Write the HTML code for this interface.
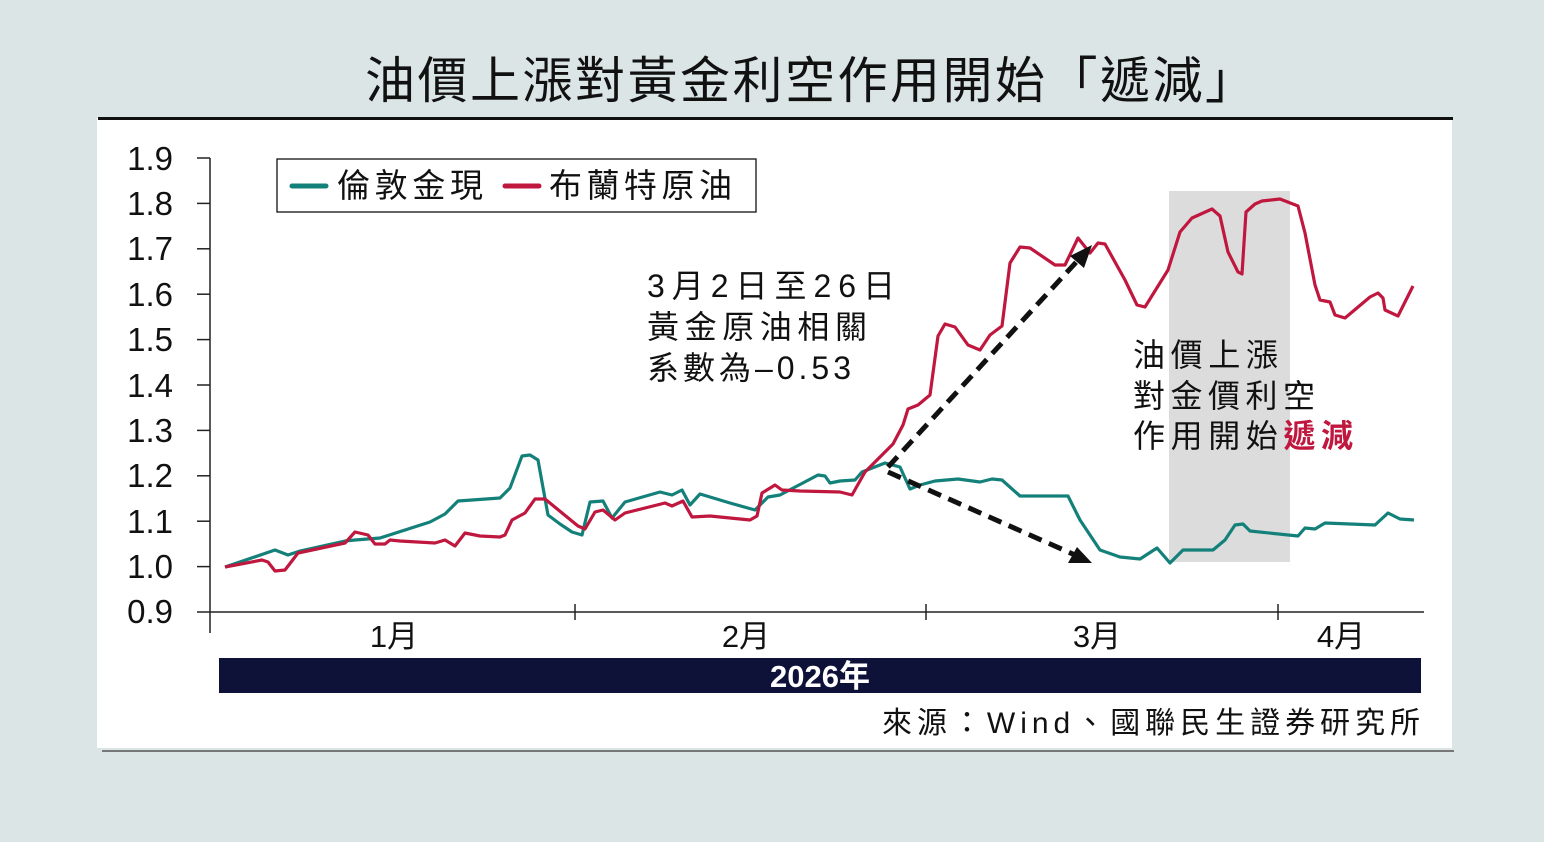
<!DOCTYPE html>
<html><head><meta charset="utf-8"><style>
body{margin:0;width:1544px;height:842px;background:#dbe5e5;overflow:hidden;font-family:"Liberation Sans","Noto Sans CJK TC",sans-serif;}
svg{position:absolute;left:0;top:0}
</style></head><body>
<svg width="1544" height="842" viewBox="0 0 1544 842" font-family="Liberation Sans, Noto Sans CJK TC, sans-serif">
<rect x="97" y="118" width="1355" height="630" fill="#fff"/>
<rect x="98" y="117" width="1355" height="3" fill="#111"/>
<rect x="102" y="750" width="1352" height="2" fill="#777"/>
<text x="365" y="98" font-size="50" fill="#111" textLength="890" lengthAdjust="spacing">油價上漲對黃金利空作用開始「遞減」</text>
<rect x="1169" y="191" width="121" height="371" fill="#dcdcdc"/>
<g stroke="#222" stroke-width="1.5">
<line x1="210" y1="158" x2="210" y2="633"/>
<line x1="197" y1="612" x2="1424" y2="612"/>
<line x1="575" y1="604" x2="575" y2="620"/><line x1="926" y1="604" x2="926" y2="620"/><line x1="1278" y1="604" x2="1278" y2="620"/>
<line x1="197" y1="158" x2="210" y2="158"/><line x1="197" y1="203.4" x2="210" y2="203.4"/><line x1="197" y1="248.8" x2="210" y2="248.8"/><line x1="197" y1="294.2" x2="210" y2="294.2"/><line x1="197" y1="339.6" x2="210" y2="339.6"/><line x1="197" y1="385" x2="210" y2="385"/><line x1="197" y1="430.4" x2="210" y2="430.4"/><line x1="197" y1="475.8" x2="210" y2="475.8"/><line x1="197" y1="521.2" x2="210" y2="521.2"/><line x1="197" y1="566.6" x2="210" y2="566.6"/>
</g>
<g font-size="33" fill="#111" text-anchor="end">
<text x="173" y="170">1.9</text><text x="173" y="215">1.8</text><text x="173" y="260">1.7</text><text x="173" y="306">1.6</text><text x="173" y="351">1.5</text><text x="173" y="397">1.4</text><text x="173" y="442">1.3</text><text x="173" y="487">1.2</text><text x="173" y="533">1.1</text><text x="173" y="578">1.0</text><text x="173" y="623">0.9</text>
</g>
<g font-size="31" fill="#111" text-anchor="middle">
<text x="394" y="647">1月</text><text x="746" y="647">2月</text><text x="1097" y="647">3月</text><text x="1341" y="647">4月</text>
</g>
<rect x="219" y="658" width="1202" height="35" fill="#0f1238"/>
<text x="820" y="687" font-size="31" font-weight="bold" fill="#fff" text-anchor="middle">2026年</text>
<text x="882" y="733" font-size="30" fill="#111" textLength="538" lengthAdjust="spacing">來源：Wind、國聯民生證券研究所</text>
<rect x="277" y="159" width="479" height="53" fill="#fff" stroke="#111" stroke-width="1.3"/>
<line x1="292" y1="186" x2="326" y2="186" stroke="#14807a" stroke-width="5" stroke-linecap="round"/>
<text x="337" y="197" font-size="33" fill="#111" textLength="146" lengthAdjust="spacing">倫敦金現</text>
<line x1="505" y1="186" x2="539" y2="186" stroke="#c0173f" stroke-width="5" stroke-linecap="round"/>
<text x="549" y="197" font-size="33" fill="#111" textLength="183" lengthAdjust="spacing">布蘭特原油</text>
<g font-size="32" fill="#111">
<text x="647" y="297" textLength="248" lengthAdjust="spacing">3月2日至26日</text><text x="647" y="338" textLength="220" lengthAdjust="spacing">黃金原油相關</text><text x="647" y="379" textLength="204" lengthAdjust="spacing">系數為–0.53</text>
<text x="1133" y="366" textLength="145" lengthAdjust="spacing">油價上漲</text><text x="1133" y="407" textLength="182" lengthAdjust="spacing">對金價利空</text><text x="1133" y="447" textLength="220" lengthAdjust="spacing">作用開始<tspan fill="#c0173f" font-weight="bold">遞減</tspan></text>
</g>
<polyline fill="none" stroke="#14807a" stroke-width="3.2" stroke-linejoin="round" points="225,567 275,550 288,555 300,551 345,541 355,540 380,538 430,522 445,514 458,501 500,498 510,488 522,456 530,455 538,460 548,515 560,524 572,532 582,535 590,502 603,501 612,518 625,502 660,492 672,495 682,490 690,505 700,494 730,503 755,510 768,497 780,495 818,475 825,476 830,483 840,481 855,480 862,472 885,463 900,467 910,489 920,485 935,481 958,479 980,482 992,479 1002,480 1020,496 1068,496 1080,520 1100,550 1120,557 1140,559 1157,548 1170,563 1183,550 1213,550 1225,540 1235,525 1243,524 1250,531 1298,536 1305,528 1315,529 1325,523 1375,525 1388,513 1400,519 1414,520"/>
<polyline fill="none" stroke="#c0173f" stroke-width="3.2" stroke-linejoin="round" points="225,567 262,560 268,562 275,571 285,570 298,553 345,543 355,532 368,535 375,544 385,544 390,540 400,541 435,543 445,540 455,546 465,533 480,536 500,537 505,535 512,520 525,513 535,499 545,499 578,526 585,529 595,512 603,510 615,520 625,513 665,503 672,506 683,501 692,517 710,516 750,520 757,516 762,493 775,485 782,490 800,491 840,492 852,495 865,472 875,462 893,444 903,425 908,409 918,405 930,395 938,336 945,324 955,327 968,345 980,350 990,335 1002,326 1010,263 1020,247 1030,248 1055,265 1065,265 1078,238 1090,253 1098,243 1105,244 1125,280 1137,305 1145,307 1168,270 1180,232 1192,218 1212,209 1220,216 1228,252 1238,272 1242,274 1246,212 1255,204 1262,201 1280,199 1298,206 1305,233 1315,285 1320,300 1330,302 1335,315 1345,318 1370,297 1378,293 1383,298 1385,310 1398,316 1413,286"/>
<g stroke="#111" stroke-width="5" stroke-dasharray="14,8" fill="none">
<line x1="888" y1="467" x2="1080" y2="258"/>
<line x1="888" y1="472" x2="1075" y2="555"/>
</g>
<polygon points="1092,245 1070,256 1084,268" fill="#111"/>
<polygon points="1092,563 1068,563 1077,547" fill="#111"/>
</svg>
</body></html>
